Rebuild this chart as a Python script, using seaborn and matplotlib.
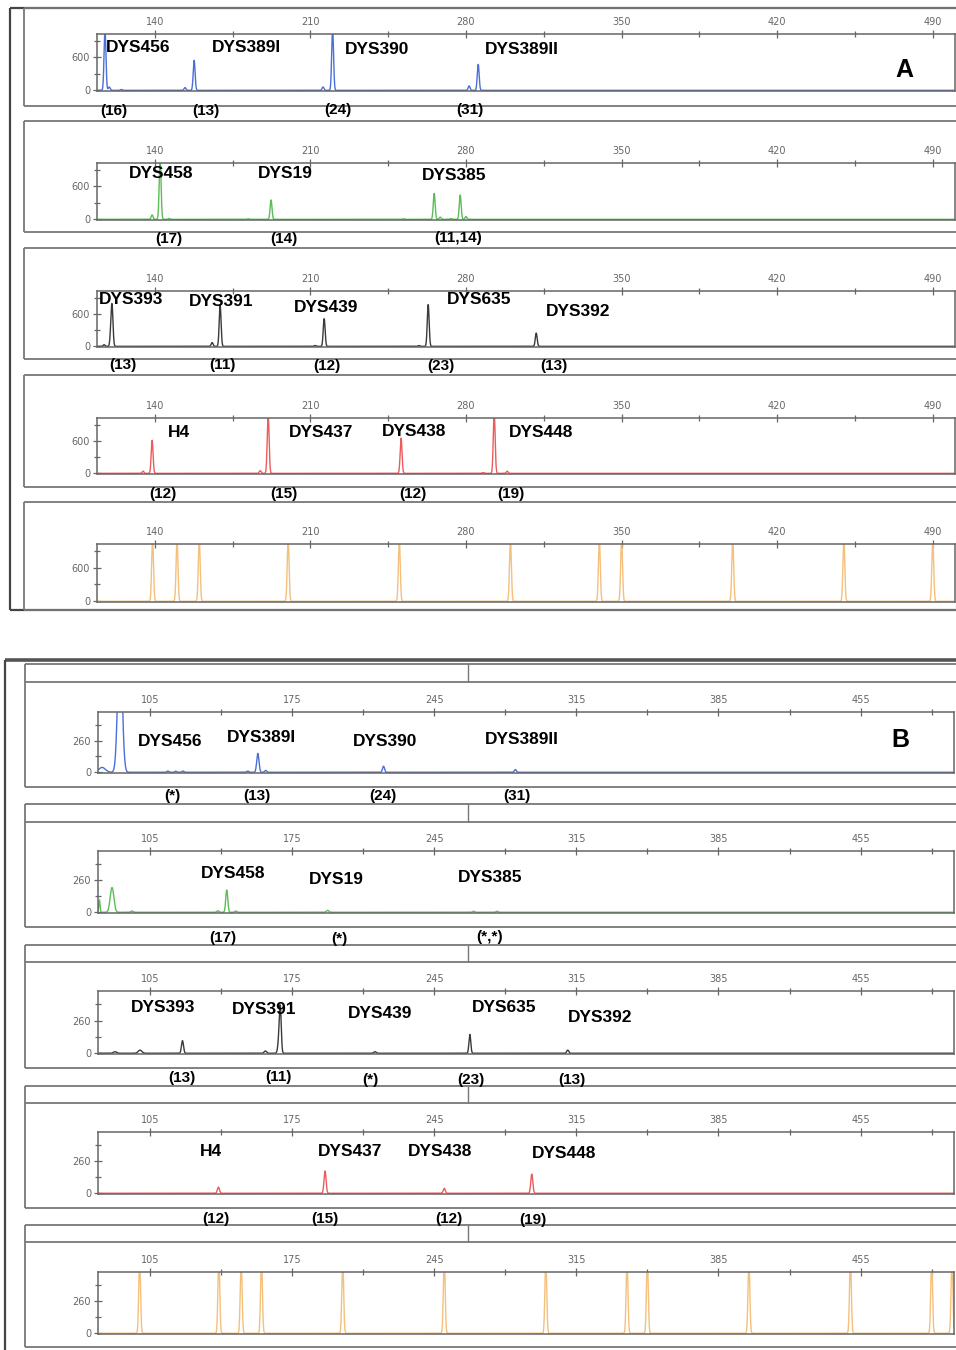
import matplotlib
matplotlib.use('Agg')
import numpy as np
import pandas as pd
import matplotlib.pyplot as plt
import seaborn as sns
from matplotlib import font_manager
from matplotlib.lines import Line2D

# ======================= DATA =======================
# axis ranges / ticks (base pairs, RFU)
A_XLIM = (114, 500)
A_XMAJOR = [140, 210, 280, 350, 420, 490]
A_XMINOR = [175, 245, 315, 385, 455]
A_YLIM = (-12, 1020)
A_YMAJOR = [0, 600]
A_YMINOR = [300, 900]

B_XLIM = (79.5, 501)
B_XMAJOR = [105, 175, 245, 315, 385, 455]
B_XMINOR = [140, 210, 280, 350, 420, 490]
B_YLIM = (-6, 495)
B_YMAJOR = [0, 260]
B_YMINOR = [130, 390]

# ---- Panel A peaks: size (bp), height (RFU)
A1_size = [117.6, 119.5, 125.0, 153.6, 157.7, 215.7, 220.0, 281.4, 285.5]
A1_rfu = [1100, 60, 15, 50, 545, 60, 1100, 80, 470]
A2_size = [138.8, 142.4, 146.5, 182.0, 192.3, 252.0, 265.7, 268.4, 273.3, 277.4, 280.0]
A2_rfu = [80, 1100, 15, 10, 350, 10, 470, 40, 15, 440, 50]
A3_size = [117.2, 120.3, 120.8, 165.8, 169.4, 212.1, 216.2, 258.9, 263.0, 311.6]
A3_rfu = [30, 250, 650, 70, 760, 15, 510, 15, 770, 245]
A4_size = [134.7, 138.8, 187.4, 191.0, 250.8, 287.7, 292.7, 298.5]
A4_rfu = [40, 610, 50, 1100, 650, 15, 1100, 40]
A5_size = [139, 150, 160, 200, 250, 300, 340, 350, 400, 450, 490]
A5_rfu = [1100, 1100, 1100, 1100, 1100, 1100, 1100, 1100, 1100, 1100, 1100]

# ---- Panel B peaks: size (bp), height (RFU), peak width (bp)
B1_size = [81.5, 90.3, 113.9, 117.8, 121.3, 153.2, 158.2, 162.1, 220.1, 285.0]
B1_rfu = [40, 1100, 10, 8, 10, 10, 155, 15, 50, 22]
B1_w = [1.6, 1.1, 0.5, 0.5, 0.5, 0.5, 0.55, 0.5, 0.5, 0.5]
B2_size = [80.2, 86.4, 96.2, 138.5, 142.9, 147.3, 192.6, 264.4, 276.0]
B2_rfu = [100, 200, 10, 12, 180, 10, 15, 8, 8]
B2_w = [0.3, 0.9, 0.6, 0.5, 0.5, 0.5, 0.6, 0.5, 0.5]
B3_size = [87.9, 100.2, 121.1, 161.9, 168.8, 169.3, 215.9, 262.6, 310.8]
B3_rfu = [12, 25, 100, 18, 140, 280, 12, 150, 25]
B3_w = [0.8, 0.9, 0.5, 0.6, 0.6, 0.45, 0.6, 0.45, 0.5]
B4_size = [138.8, 191.3, 250.0, 293.1]
B4_rfu = [50, 180, 40, 155]
B4_w = [0.5, 0.5, 0.5, 0.5]
B5_size = [100, 139, 150, 160, 200, 250, 300, 340, 350, 400, 450, 490, 500]
B5_rfu = [600, 600, 600, 600, 600, 600, 600, 600, 600, 600, 600, 600, 600]
B5_w = [0.45, 0.45, 0.45, 0.45, 0.45, 0.45, 0.45, 0.45, 0.45, 0.45, 0.45, 0.45, 0.45]

# ---- locus names and allele calls
A1_loci = ['DYS456', 'DYS389I', 'DYS390', 'DYS389II']
A1_calls = ['(16)', '(13)', '(24)', '(31)']
A2_loci = ['DYS458', 'DYS19', 'DYS385']
A2_calls = ['(17)', '(14)', '(11,14)']
A3_loci = ['DYS393', 'DYS391', 'DYS439', 'DYS635', 'DYS392']
A3_calls = ['(13)', '(11)', '(12)', '(23)', '(13)']
A4_loci = ['H4', 'DYS437', 'DYS438', 'DYS448']
A4_calls = ['(12)', '(15)', '(12)', '(19)']
B1_calls = ['(*)', '(13)', '(24)', '(31)']
B2_calls = ['(17)', '(*)', '(*,*)']
B3_calls = ['(13)', '(11)', '(*)', '(23)', '(13)']
B4_calls = ['(12)', '(15)', '(12)', '(19)']

DYE_COLORS = ['#4a6fd8', '#5bbd58', '#3a3a3a', '#ec5c5c', '#f4c07c']

# ======================= LAYOUT / STYLE =======================
W, H = 956, 1350
sns.set_theme(style='ticks')
plt.rcParams['font.family'] = ['Liberation Sans', 'DejaVu Sans']
names = {f.name for f in font_manager.fontManager.ttflist}
NARROW = 'Liberation Sans Narrow' in names
if NARROW:
    B_FAM, B_LOC_FS, B_CALL_FS = ['Liberation Sans Narrow', 'Liberation Sans'], 15, 13
else:
    B_FAM, B_LOC_FS, B_CALL_FS = ['Liberation Sans', 'DejaVu Sans'], 12.5, 11

fig = plt.figure(figsize=(W / 100, H / 100), dpi=100)


def fx(px):
    return px / W


def fy(py):
    return 1 - py / H


def line(x0, y0, x1, y1, lw=1.3, color='#777777'):
    fig.add_artist(Line2D([fx(x0), fx(x1)], [fy(y0), fy(y1)], lw=lw, color=color,
                          transform=fig.transFigure, solid_capstyle='butt'))


def trace(xlim, sizes, rfus, widths):
    grid = np.linspace(xlim[0], xlim[1], 7000)
    y = np.zeros_like(grid)
    for s, h, w in zip(sizes, rfus, widths):
        y += h * np.exp(-0.5 * ((grid - s) / w) ** 2)
    return pd.DataFrame({'size': grid, 'rfu': y})


def make_lane(rect, xlim, xmaj, xmin, ylim, ymaj, ymin, df, color):
    l, t, r, b = rect
    ax = fig.add_axes([fx(l), fy(b), (r - l) / W, (b - t) / H])
    sns.lineplot(data=df, x='size', y='rfu', ax=ax, color=color, lw=1.0,
                 estimator=None, sort=False, legend=False)
    ax.set_xlim(*xlim)
    ax.set_ylim(*ylim)
    ax.set_xlabel('')
    ax.set_ylabel('')
    ax.xaxis.tick_top()
    ax.set_xticks(xmaj)
    ax.set_xticks(xmin, minor=True)
    ax.set_xticklabels([str(v) for v in xmaj])
    ax.set_yticks(ymaj)
    ax.set_yticks(ymin, minor=True)
    ax.set_yticklabels([str(v) for v in ymaj])
    ax.tick_params(axis='x', which='both', top=True, bottom=False, labeltop=True, labelbottom=False)
    ax.tick_params(axis='y', which='both', left=True, right=False)
    ax.tick_params(which='major', direction='inout', length=6, width=0.9, color='#666666',
                   labelsize=7, labelcolor='#666666', pad=2)
    ax.tick_params(which='minor', direction='inout', length=5, width=0.9, color='#666666')
    for lab in ax.get_xticklabels() + ax.get_yticklabels():
        lab.set_fontfamily('DejaVu Sans')
    for s in ax.spines.values():
        s.set_color('#666666')
        s.set_linewidth(1.1)
    ax.set_facecolor('white')
    return ax


def txt(px, py, s, fs, family=None, weight='bold'):
    kw = {}
    if family is not None:
        kw['family'] = family
    fig.text(fx(px), fy(py), s, ha='center', va='center', fontsize=fs,
             fontweight=weight, color='black', **kw)


# ---------------- Panel A frame ----------------
line(10, 8, 956, 8, lw=1.6, color='#444444')
line(10, 8, 10, 610, lw=1.6, color='#444444')
line(10, 610, 956, 610, lw=1.6, color='#444444')
A_boxes = [(8, 106), (121, 232), (248, 359), (375, 487), (502, 610)]
for t, b in A_boxes:
    line(24, t, 956, t)
    line(24, b, 956, b)
    line(24, t, 24, b)

A_tops = [34, 163, 291, 418, 544]
A_bots = [91, 220, 347, 474, 602]
A_data = [(A1_size, A1_rfu), (A2_size, A2_rfu), (A3_size, A3_rfu),
          (A4_size, A4_rfu), (A5_size, A5_rfu)]
for i, (sz, rf) in enumerate(A_data):
    df = trace(A_XLIM, sz, rf, [0.42] * len(sz))
    make_lane((97, A_tops[i], 955, A_bots[i]), A_XLIM, A_XMAJOR, A_XMINOR,
              A_YLIM, A_YMAJOR, A_YMINOR, df, DYE_COLORS[i])

# ---------------- Panel B frame ----------------
line(5, 660, 956, 660, lw=2.6, color='#555555')
line(5, 660, 5, 1350, lw=1.6, color='#444444')
B_boxes = [(664, 682, 787), (804, 822, 927), (945, 962, 1068), (1086, 1103, 1208), (1225, 1242, 1347)]
for t, d, b in B_boxes:
    line(25, t, 956, t)
    line(25, d, 956, d)
    line(25, b, 956, b)
    line(25, t, 25, b)
    line(468, t, 468, d, lw=1.0)

B_tops = [712, 851, 991, 1132, 1272]
B_bots = [773, 913, 1054, 1194, 1334]
B_data = [(B1_size, B1_rfu, B1_w), (B2_size, B2_rfu, B2_w), (B3_size, B3_rfu, B3_w),
          (B4_size, B4_rfu, B4_w), (B5_size, B5_rfu, B5_w)]
for i, (sz, rf, wd) in enumerate(B_data):
    df = trace(B_XLIM, sz, rf, wd)
    make_lane((98, B_tops[i], 954, B_bots[i]), B_XLIM, B_XMAJOR, B_XMINOR,
              B_YLIM, B_YMAJOR, B_YMINOR, df, DYE_COLORS[i])

# ---------------- labels: panel A ----------------
A_loc_pos = [
    [(138, 47), (246, 48), (377, 50), (522, 50)],
    [(161, 174), (285, 174), (454, 176)],
    [(131, 300), (221, 302), (326, 308), (479, 300), (578, 311)],
    [(179, 432), (321, 432), (414, 431), (541, 432)],
]
A_call_pos = [
    [(114, 111), (206, 111), (338, 110), (470, 110)],
    [(169, 239), (284, 239), (458, 238)],
    [(123, 365), (222, 365), (327, 366), (441, 366), (554, 366)],
    [(163, 494), (284, 494), (413, 494), (511, 494)],
]
A_loci = [A1_loci, A2_loci, A3_loci, A4_loci]
A_calls = [A1_calls, A2_calls, A3_calls, A4_calls]
for loci, calls, lp, cp in zip(A_loci, A_calls, A_loc_pos, A_call_pos):
    for s, (px, py) in zip(loci, lp):
        txt(px, py, s, 12.5)
    for s, (px, py) in zip(calls, cp):
        txt(px, py, s, 11)
txt(904, 70, 'A', 18)

# ---------------- labels: panel B ----------------
B_loc_pos = [
    [(170, 741), (261, 737), (385, 741), (522, 740)],
    [(233, 874), (336, 880), (490, 878)],
    [(163, 1007), (264, 1009), (380, 1014), (504, 1008), (600, 1018)],
    [(211, 1152), (350, 1152), (440, 1151), (564, 1153)],
]
B_call_pos = [
    [(172, 796), (257, 796), (383, 796), (517, 796)],
    [(223, 938), (339, 939), (490, 937)],
    [(182, 1078), (278, 1077), (370, 1080), (471, 1080), (572, 1080)],
    [(216, 1219), (325, 1219), (449, 1219), (533, 1220)],
]
B_calls = [B1_calls, B2_calls, B3_calls, B4_calls]
for loci, calls, lp, cp in zip(A_loci, B_calls, B_loc_pos, B_call_pos):
    for s, (px, py) in zip(loci, lp):
        txt(px, py, s, B_LOC_FS, family=B_FAM)
    for s, (px, py) in zip(calls, cp):
        txt(px, py, s, B_CALL_FS, family=B_FAM)
txt(900, 740, 'B', 18)

fig.savefig('out.png', dpi=100)
